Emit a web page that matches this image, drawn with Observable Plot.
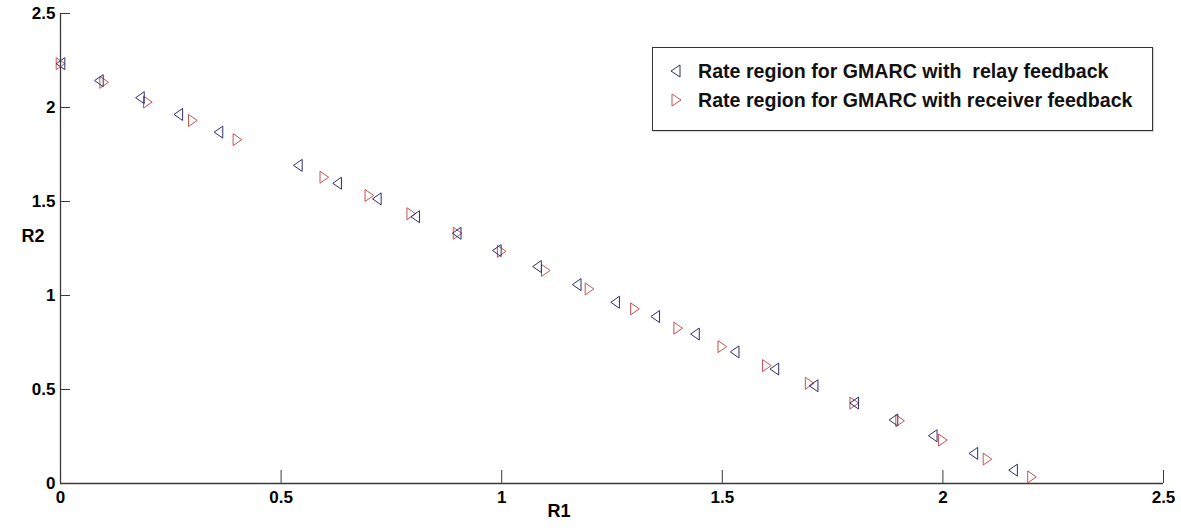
<!DOCTYPE html>
<html><head><meta charset="utf-8">
<script src="https://cdn.jsdelivr.net/npm/d3@7"></script>
<script src="https://cdn.jsdelivr.net/npm/@observablehq/plot@0.6"></script>
<style>
html,body{margin:0;padding:0;background:#fff;}
#wrap{position:relative;width:1181px;height:530px;font-family:"Liberation Sans",Arial,sans-serif;}
#legend{position:absolute;left:652px;top:47px;width:501px;height:84px;border:1px solid #333;background:#fff;box-sizing:border-box;box-shadow:1px 1px 1px rgba(0,0,0,0.15);}
.row{position:absolute;left:0;height:24px;display:flex;align-items:center;font-weight:bold;font-size:19.6px;color:#111;white-space:pre;}
.row svg{position:absolute;left:16px;top:5px;}
.row span{position:absolute;left:45px;}
</style></head><body><div id="wrap"><div id="legend"></div></div>
<script>
// Data
const seriesNames = ["Rate region for GMARC with  relay feedback", "Rate region for GMARC with receiver feedback"];
const seriesColors = ["#2e2e6e", "#c85050"];
const ticks = [0, 0.5, 1, 1.5, 2, 2.5];

const relayR1 = [0, 0.087, 0.180, 0.267, 0.358, 0.538, 0.627, 0.717, 0.804, 0.898, 0.989, 1.080, 1.170, 1.257, 1.348, 1.438, 1.528, 1.618, 1.707, 1.799, 1.888, 1.977, 2.069, 2.159];
const relayR2 = [2.233, 2.143, 2.052, 1.963, 1.869, 1.692, 1.597, 1.514, 1.419, 1.331, 1.239, 1.154, 1.058, 0.964, 0.888, 0.795, 0.700, 0.609, 0.520, 0.428, 0.338, 0.254, 0.160, 0.071];

const receiverR1 = [0, 0.099, 0.198, 0.300, 0.401, 0.598, 0.700, 0.795, 0.900, 1.000, 1.100, 1.199, 1.302, 1.400, 1.500, 1.601, 1.698, 1.799, 1.903, 2.000, 2.101, 2.202];
const receiverR2 = [2.233, 2.134, 2.029, 1.931, 1.829, 1.629, 1.532, 1.435, 1.331, 1.235, 1.133, 1.035, 0.929, 0.826, 0.728, 0.627, 0.533, 0.428, 0.334, 0.231, 0.130, 0.035];

const relay = relayR1.map((v, i) => ({r1: v, r2: relayR2[i]}));
const receiver = receiverR1.map((v, i) => ({r1: v, r2: receiverR2[i]}));

const leftTri = {draw(ctx, size) {
  const r = Math.sqrt(size / Math.PI);
  ctx.moveTo(-0.72 * r, 0); ctx.lineTo(0.72 * r, -r); ctx.lineTo(0.72 * r, r); ctx.closePath();
}};
const rightTri = {draw(ctx, size) {
  const r = Math.sqrt(size / Math.PI);
  ctx.moveTo(0.72 * r, 0); ctx.lineTo(-0.72 * r, -r); ctx.lineTo(-0.72 * r, r); ctx.closePath();
}};

const axisColor = "#3a3a3a";
const plot = Plot.plot({
  width: 1181, height: 530,
  marginLeft: 60, marginRight: 18, marginTop: 13, marginBottom: 47,
  style: {fontFamily: "Liberation Sans, Arial, sans-serif", fontSize: "17px", fontWeight: "bold", color: "#000", background: "#fff"},
  x: {domain: [0, 2.5]},
  y: {domain: [0, 2.5]},
  marks: [
    Plot.ruleY([0], {stroke: axisColor, strokeWidth: 1.3}),
    Plot.ruleX([0], {stroke: axisColor, strokeWidth: 1.3}),
    Plot.axisX(ticks, {tickSize: -13, tickPadding: 20, tickFormat: d => String(d), label: null, stroke: axisColor}),
    Plot.axisY(ticks, {tickSize: -10, tickPadding: 15, tickFormat: d => String(d), label: null, stroke: axisColor}),
    Plot.dot(receiver, {x: "r1", y: "r2", symbol: rightTri, r: 6, stroke: seriesColors[1], strokeWidth: 1, fill: "none"}),
    Plot.dot(relay, {x: "r1", y: "r2", symbol: leftTri, r: 6, stroke: seriesColors[0], strokeWidth: 1, fill: "none"}),
    Plot.text(["R1"], {frameAnchor: "bottom", dx: -53, dy: 33, fontSize: 18, fill: "#000"}),
    Plot.text(["R2"], {frameAnchor: "left", dx: -39, dy: -12, fontSize: 18, fill: "#000"})
  ]
});
const wrap = document.getElementById("wrap");
wrap.insertBefore(plot, wrap.firstChild);

// Legend
const legend = document.getElementById("legend");
const rowTops = [11, 40];
seriesNames.forEach((name, i) => {
  const row = document.createElement("div");
  row.className = "row";
  row.style.top = rowTops[i] + "px";
  const pts = i === 0 ? "2,7 11,1 11,13" : "12,7 3,1 3,13";
  row.innerHTML = `<svg width="14" height="14"><polygon points="${pts}" fill="none" stroke="${seriesColors[i]}" stroke-width="1"/></svg><span>${name}</span>`;
  legend.appendChild(row);
});
</script>
</body></html>
